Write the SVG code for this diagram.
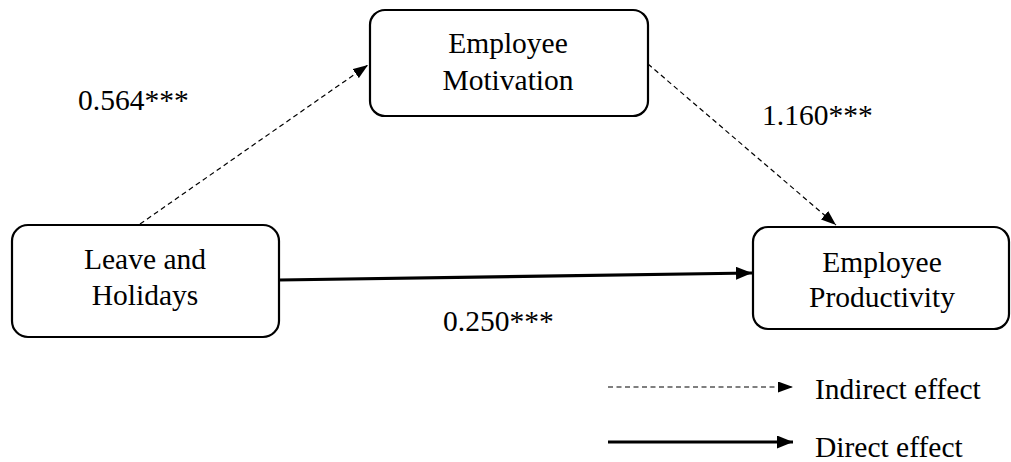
<svg xmlns="http://www.w3.org/2000/svg" width="1011" height="462" viewBox="0 0 1011 462">
  <style>
    .box { fill: #ffffff; stroke: #000000; stroke-width: 2.2; }
    text { font-family: 'Liberation Serif', 'Times New Roman', serif; font-size: 29.5px; fill: #000000; }
    .mid { text-anchor: middle; }
    .dash { fill: none; stroke: #000000; stroke-width: 1.2; stroke-dasharray: 5 3.5; }
    .solid { fill: none; stroke: #000000; stroke-width: 3.2; }
  </style>
  <defs>
    <!-- arrowhead for the dashed (indirect) paths -->
    <marker id="headThin" viewBox="0 0 15 11" refX="15" refY="5.5" markerWidth="15" markerHeight="11" markerUnits="userSpaceOnUse" orient="auto">
      <path d="M0,0 L15,5.5 L0,11 Z" fill="#000000"/>
    </marker>
    <!-- arrowhead for the solid (direct) paths -->
    <marker id="headThick" viewBox="0 0 16 13" refX="16" refY="6.5" markerWidth="16" markerHeight="13" markerUnits="userSpaceOnUse" orient="auto">
      <path d="M0,0 L16,6.5 L0,13 Z" fill="#000000"/>
    </marker>
  </defs>

  <rect width="1011" height="462" fill="#ffffff"/>

  <g id="connectors">
    <line class="dash" x1="140" y1="224" x2="368" y2="65" marker-end="url(#headThin)"/>
    <line class="dash" x1="648" y1="64" x2="836" y2="225" marker-end="url(#headThin)"/>
    <line class="solid" x1="279" y1="280" x2="752" y2="273" marker-end="url(#headThick)"/>
  </g>

  <g id="node-motivation">
    <rect class="box" x="370" y="10" width="278" height="106" rx="15"/>
    <text class="mid" x="508" y="53">Employee</text>
    <text class="mid" x="508" y="90">Motivation</text>
  </g>

  <g id="node-leave">
    <rect class="box" x="12" y="225" width="267" height="112" rx="16"/>
    <text class="mid" x="145" y="269">Leave and</text>
    <text class="mid" x="145" y="305">Holidays</text>
  </g>

  <g id="node-productivity">
    <rect class="box" x="753" y="227" width="256" height="102" rx="15"/>
    <text class="mid" x="882" y="272">Employee</text>
    <text class="mid" x="882" y="307">Productivity</text>
  </g>

  <g id="path-labels">
    <text x="78" y="110">0.564***</text>
    <text x="762" y="125">1.160***</text>
    <text x="443" y="331">0.250***</text>
  </g>

  <g id="legend">
    <line class="dash" x1="608" y1="387" x2="793" y2="387" marker-end="url(#headThin)"/>
    <text x="815" y="399">Indirect effect</text>
    <line class="solid" x1="608" y1="442" x2="793" y2="442" marker-end="url(#headThick)"/>
    <text x="815" y="457">Direct effect</text>
  </g>
</svg>
